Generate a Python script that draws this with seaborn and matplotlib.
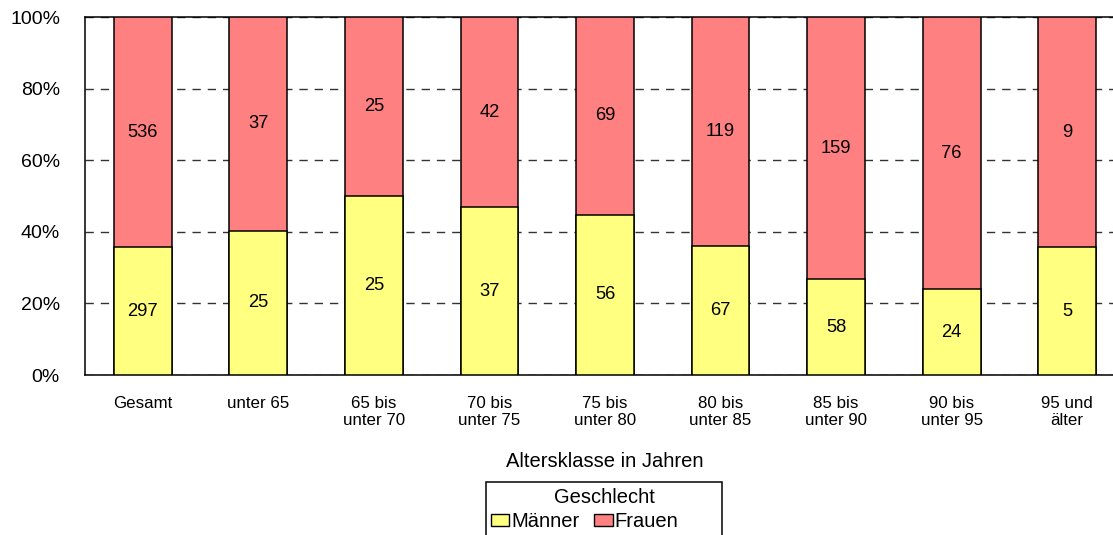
import numpy as np
import pandas as pd
import matplotlib
matplotlib.use("Agg")
import matplotlib.pyplot as plt
import seaborn as sns
from matplotlib.patches import Patch, Rectangle
from matplotlib.ticker import PercentFormatter

categories = ["Gesamt", "unter 65", "65 bis\nunter 70", "70 bis\nunter 75", "75 bis\nunter 80",
              "80 bis\nunter 85", "85 bis\nunter 90", "90 bis\nunter 95", "95 und\nälter"]
maenner = [297, 25, 25, 37, 56, 67, 58, 24, 5]
frauen = [536, 37, 25, 42, 69, 119, 159, 76, 9]

col_m = "#FFFF80"
col_f = "#FF8080"

sns.set_theme(style="white")
plt.rcParams["font.family"] = ["Liberation Sans", "DejaVu Sans"]
for key in ["text.color", "axes.labelcolor", "xtick.color", "ytick.color"]:
    plt.rcParams[key] = "black"

df = pd.DataFrame({"Altersklasse": categories, "Männer": maenner, "Frauen": frauen})
df["Gesamt"] = df["Männer"] + df["Frauen"]
df["Anteil_M"] = df["Männer"] / df["Gesamt"] * 100
df["Anteil_Total"] = 100.0

W, H = 1113, 535
fig = plt.figure(figsize=(W / 100, H / 100), dpi=100)
ax = fig.add_axes([85 / W, 1 - 375 / H, 1040 / W, 358 / H])

sns.barplot(data=df, x="Altersklasse", y="Anteil_Total", color=col_f, saturation=1,
            width=0.5, edgecolor="black", linewidth=1.1, ax=ax, zorder=3)
sns.barplot(data=df, x="Altersklasse", y="Anteil_M", color=col_m, saturation=1,
            width=0.5, edgecolor="black", linewidth=1.1, ax=ax, zorder=4)

for i, row in df.iterrows():
    pm = row["Anteil_M"]
    ax.text(i, pm / 2, f"{row['Männer']}", ha="center", va="center", fontsize=13.2, zorder=5)
    ax.text(i, pm + (100 - pm) / 2, f"{row['Frauen']}", ha="center", va="center",
            fontsize=13.2, zorder=5)

ax.set_ylim(0, 100)
ax.set_xlim(-0.5, len(categories) - 0.5)
ax.set_yticks([0, 20, 40, 60, 80, 100])
ax.yaxis.set_major_formatter(PercentFormatter(decimals=0))
ax.tick_params(axis="y", labelsize=14, length=0, pad=18)
ax.tick_params(axis="x", labelsize=12.2, length=0, pad=15)
ax.yaxis.grid(True, linestyle=(0, (6, 5)), color="#333333", linewidth=1.0, zorder=0)
ax.set_axisbelow(True)
for s in ax.spines.values():
    s.set_color("black")
    s.set_linewidth(1.1)
ax.set_ylabel("")
ax.set_xlabel("Altersklasse in Jahren", fontsize=14.5, labelpad=17)

# Legend: framed box with a centred title and two entries
fig.add_artist(Rectangle((486 / W, -0.05), (722 - 486) / W, 0.05 + (535 - 482) / H,
                         transform=fig.transFigure, facecolor="white", edgecolor="black",
                         linewidth=1.1, clip_on=False))
fig.text(604 / W, 1 - 503 / H, "Geschlecht", ha="center", va="baseline", fontsize=14.5)
handles = [Patch(facecolor=col_m, edgecolor="black", label="Männer"),
           Patch(facecolor=col_f, edgecolor="black", label="Frauen")]
fig.legend(handles=handles, ncol=2, loc="upper left",
           bbox_to_anchor=(491 / W, 1 - 512 / H), fontsize=14.5,
           frameon=False, handlelength=0.9, handleheight=0.6, handletextpad=0.1,
           columnspacing=0.75, borderpad=0, borderaxespad=0)

fig.savefig("out.png", dpi=100)
